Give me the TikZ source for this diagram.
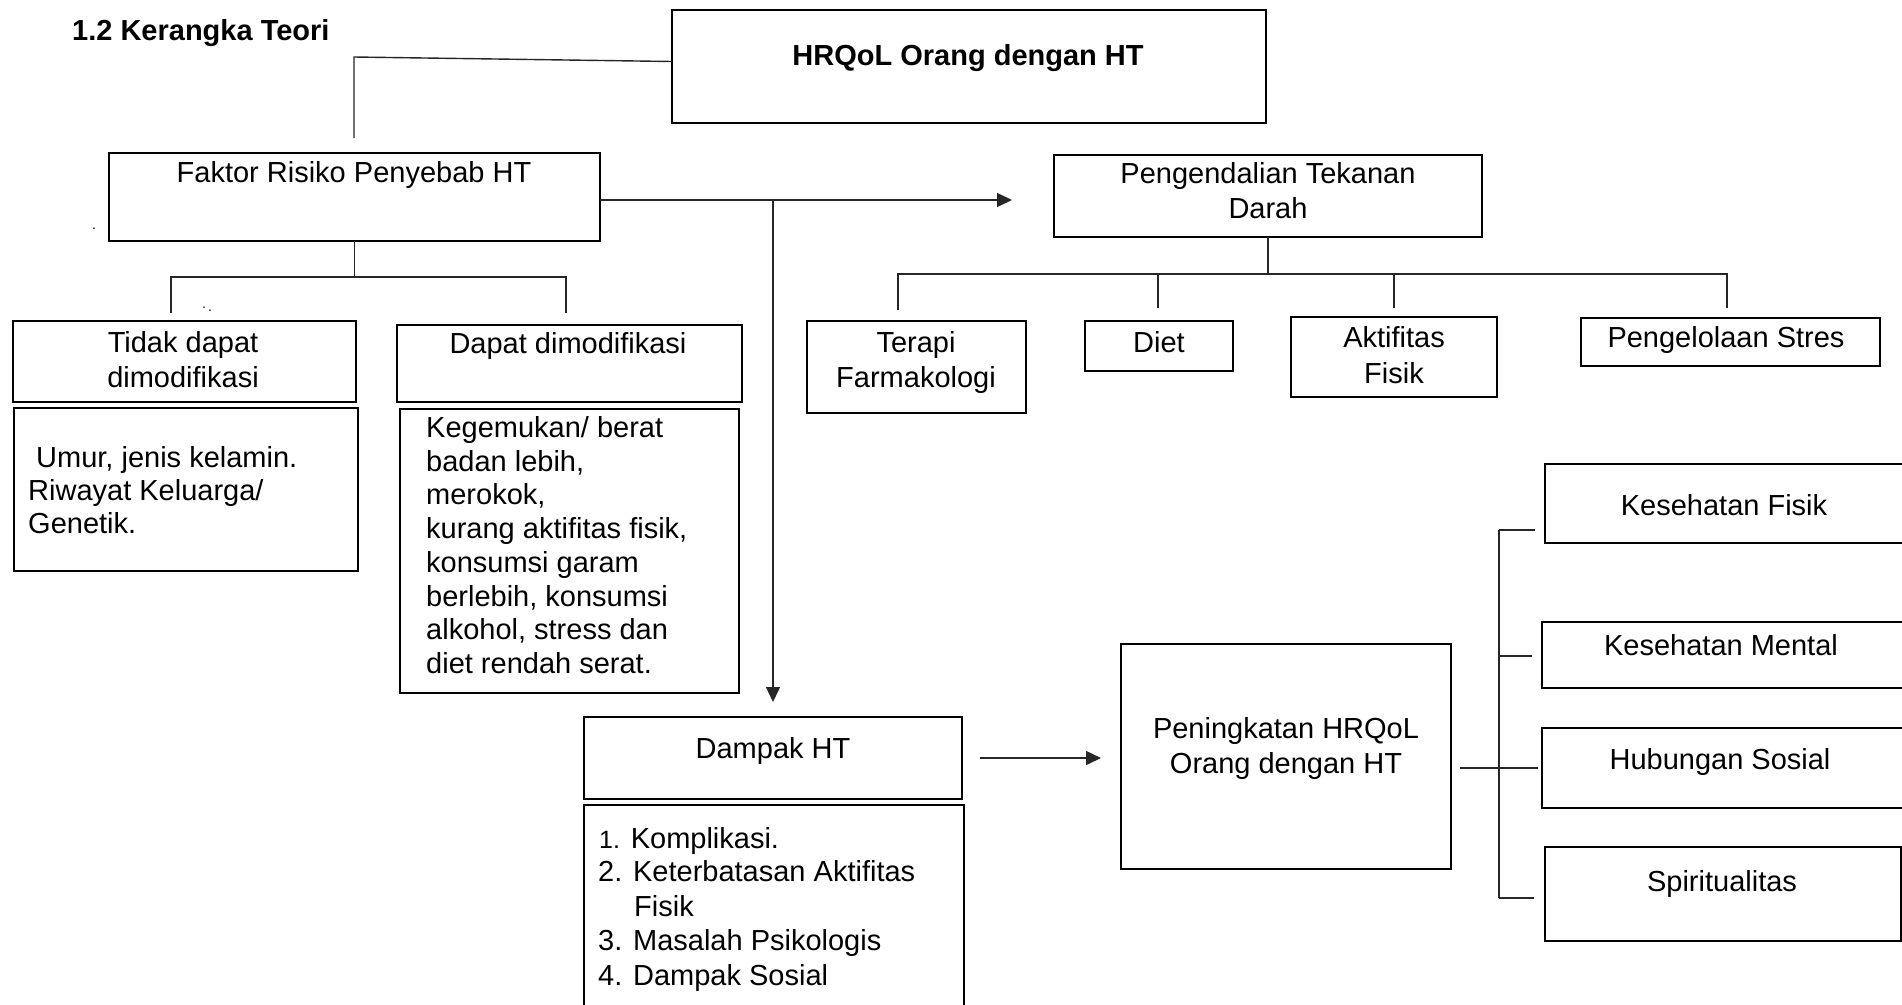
\documentclass[tikz,border=0pt]{standalone}
\usepackage{fontspec}
\setmainfont{Liberation Sans}
\usetikzlibrary{arrows.meta}
\newcommand{\myfs}{\fontsize{29}{33.5}\selectfont}
\begin{document}
\begin{tikzpicture}[x=1pt,y=-1pt,
  box/.style={draw, line width=2.3pt, inner sep=0pt, outer sep=0pt, anchor=north west},
  tb/.style={anchor=base, inner sep=0pt, font=\myfs},
  tl/.style={anchor=base west, inner sep=0pt, font=\myfs},
  ln/.style={line width=1.4pt, black!85},
  arr/.style={-{Triangle[length=15pt,width=14pt]}}]
\useasboundingbox (0,0) rectangle (1902,1004);
\clip (0,0) rectangle (1902,1004);
\fill[white] (0,0) rectangle (1902,1004);

% ---------- boxes ----------
\node[box, minimum width=594pt, minimum height=113pt] (hr)  at (672,10) {};
\node[box, minimum width=491pt, minimum height=88pt]  (fak) at (109,153) {};
\node[box, minimum width=428pt, minimum height=82pt]  (pen) at (1054,155) {};
\node[box, minimum width=343pt, minimum height=81pt]  (tid) at (13,321) {};
\node[box, minimum width=345pt, minimum height=77pt]  (dap) at (397,325) {};
\node[box, minimum width=344pt, minimum height=163pt] (umr) at (14,408) {};
\node[box, minimum width=339pt, minimum height=284pt] (keg) at (400,409) {};
\node[box, minimum width=219pt, minimum height=92pt]  (ter) at (807,321) {};
\node[box, minimum width=148pt, minimum height=50pt]  (die) at (1085,321) {};
\node[box, minimum width=206pt, minimum height=80pt]  (akt) at (1291,317) {};
\node[box, minimum width=299pt, minimum height=48pt]  (pgs) at (1581,318) {};
\node[box, minimum width=378pt, minimum height=82pt]  (dam) at (584,717) {};
\node[box, minimum width=380pt, minimum height=215pt] (lst) at (584,805) {};
\node[box, minimum width=330pt, minimum height=225pt] (pnk) at (1121,644) {};
\node[box, minimum width=380pt, minimum height=79pt]  (kfs) at (1545,464) {};
\node[box, minimum width=380pt, minimum height=66pt]  (kmt) at (1542,622) {};
\node[box, minimum width=380pt, minimum height=80pt]  (hbs) at (1542,728) {};
\node[box, minimum width=356pt, minimum height=94pt]  (spr) at (1545,847) {};

% ---------- texts ----------
\node[tl, font=\myfs\bfseries] (title) at (72,40) {1.2 Kerangka Teori};
\node[tb, font=\myfs\bfseries] (hr-t) at (968,65) {HRQoL Orang dengan HT};
\node[tb] (fak-t) at (354,182) {Faktor Risiko Penyebab HT};
\node[tb] (pen-t1) at (1268,183) {Pengendalian Tekanan};
\node[tb] (pen-t2) at (1268,218) {Darah};
\node[tb] (tid-t1) at (183,352) {Tidak dapat};
\node[tb] (tid-t2) at (183,387) {dimodifikasi};
\node[tb] (dap-t) at (568,353) {Dapat dimodifikasi};
\node[tl] (umr-t1) at (36,467) {Umur, jenis kelamin.};
\node[tl] (umr-t2) at (28,500) {Riwayat Keluarga/};
\node[tl] (umr-t3) at (28,533) {Genetik.};
\node[tl] (keg-t1) at (426,437) {Kegemukan/ berat};
\node[tl] (keg-t2) at (426,471) {badan lebih,};
\node[tl] (keg-t3) at (426,504) {merokok,};
\node[tl] (keg-t4) at (426,538) {kurang aktifitas fisik,};
\node[tl] (keg-t5) at (426,572) {konsumsi garam};
\node[tl] (keg-t6) at (426,606) {berlebih, konsumsi};
\node[tl] (keg-t7) at (426,639) {alkohol, stress dan};
\node[tl] (keg-t8) at (426,673) {diet rendah serat.};
\node[tb] (ter-t1) at (916,352) {Terapi};
\node[tb] (ter-t2) at (916,387) {Farmakologi};
\node[tb] (die-t) at (1159,352) {Diet};
\node[tb] (akt-t1) at (1394,347) {Aktifitas};
\node[tb] (akt-t2) at (1394,383) {Fisik};
\node[tb] (pgs-t) at (1726,347) {Pengelolaan Stres};
\node[tb] (dam-t) at (773,758) {Dampak HT};
\node[tl] (lst-t1) at (599,848) {{\fontsize{25}{30}\selectfont 1.} Komplikasi.};
\node[tl] (lst-t2) at (598,881) {2. Keterbatasan Aktifitas};
\node[tl] (lst-t3) at (634,916) {Fisik};
\node[tl] (lst-t4) at (598,950) {3. Masalah Psikologis};
\node[tl] (lst-t5) at (598,985) {4. Dampak Sosial};
\node[tb] (pnk-t1) at (1286,738) {Peningkatan HRQoL};
\node[tb] (pnk-t2) at (1286,773) {Orang dengan HT};
\node[tb] (kfs-t) at (1724,515) {Kesehatan Fisik};
\node[tb] (kmt-t) at (1721,655) {Kesehatan Mental};
\node[tb] (hbs-t) at (1720,769) {Hubungan Sosial};
\node[tb] (spr-t) at (1722,891) {Spiritualitas};

% stray marks
\node[tb, font=\fontsize{14}{16}\selectfont] (dot1) at (94,229) {.};
\node[tb, font=\fontsize{14}{16}\selectfont] (dot2) at (204,308) {.};
\node[tb, font=\fontsize{14}{16}\selectfont] (dot3) at (210,311) {.};

% ---------- connectors ----------
\coordinate (j1) at (354,57);
\coordinate (j1e) at (354,138);
\draw[ln] ([yshift=5pt]hr.west) -- (j1) -- (j1e);

\coordinate (a1) at (1012,200);
\draw[ln,arr] (fak.east |- a1) -- (a1);
\coordinate (a2) at (773,702);
\draw[ln,arr] (a2 |- a1) -- (a2);

\coordinate (f1) at (354,277);
\coordinate (fld) at (171,313);
\coordinate (frd) at (566,313);
\draw[ln] (fak.south) -- (fak.south |- f1);
\draw[ln] (fld) -- (fld |- f1) -- (frd |- f1) -- (frd);

\coordinate (p1) at (1268,274);
\coordinate (pd1) at (898,310);
\coordinate (pd2) at (1158,308);
\coordinate (pd3) at (1394,308);
\coordinate (pd4) at (1727,308);
\draw[ln] (pen.south) -- (pen.south |- p1);
\draw[ln] (pd1) -- (pd1 |- p1) -- (pd4 |- p1) -- (pd4);
\draw[ln] (pd2) -- (pd2 |- p1);
\draw[ln] (pd3) -- (pd3 |- p1);

\draw[ln,arr] ([xshift=18pt]dam.east) -- ([xshift=-20pt]pnk.west |- dam.east);

\coordinate (b0) at (1538,768);
\coordinate (bt) at (1499,530);
\coordinate (bm) at (1499,656);
\coordinate (bb) at (1499,898);
\draw[ln] ([xshift=9pt]pnk.east |- b0) -- (b0);
\draw[ln] (bt) -- (bb);
\draw[ln] (bt) -- (1535,530);
\draw[ln] (bm) -- (1532,656);
\draw[ln] (bb) -- (1534,898);
\end{tikzpicture}
\end{document}
